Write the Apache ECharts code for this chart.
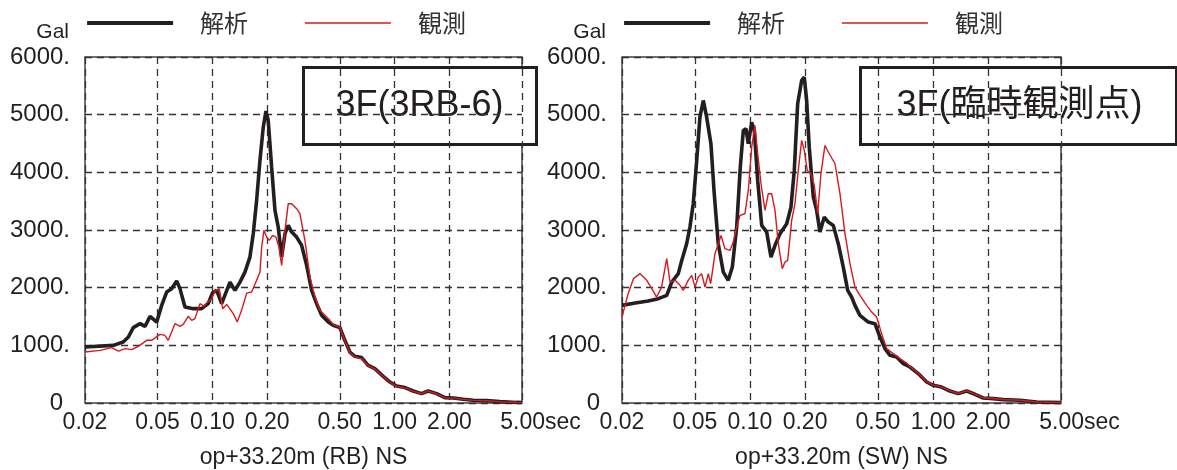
<!DOCTYPE html>
<html>
<head>
<meta charset="utf-8">
<script src="https://cdn.jsdelivr.net/npm/echarts@6/dist/echarts.min.js"></script>
<style>html,body{margin:0;padding:0;background:#fff}#c{width:1177px;height:470px}</style>
</head>
<body>
<div id="c"></div>
<script>
// ---- tick definitions ----
const tickPeriods = [0.02, 0.05, 0.1, 0.2, 0.5, 1, 2, 5];
const tickLabels = ['0.02', '0.05', '0.10', '0.20', '0.50', '1.00', '2.00', '5.00'];
const seriesNames = ['解析', '観測'];
const panelTitles = ['op+33.20m (RB) NS', 'op+33.20m (SW) NS'];
const boxTitles = ['3F(3RB-6)', '3F(臨時観測点)'];
const yUnit = 'Gal';

// ---- left panel: 3F(3RB-6), analysis (black) ----
const rbAnaT = [0.02, 0.0286, 0.0324, 0.0346, 0.0368, 0.0401, 0.0427, 0.0455, 0.0495, 0.0527, 0.0561, 0.0598, 0.0637, 0.0664, 0.0707, 0.0786, 0.0873, 0.0949, 0.1, 0.1056, 0.1124, 0.1249, 0.133, 0.1417, 0.1509, 0.1607, 0.1676, 0.1749, 0.1824, 0.1902, 0.1968, 0.2025, 0.2114, 0.2205, 0.2298, 0.2399, 0.2502, 0.2608, 0.2723, 0.29, 0.3089, 0.329, 0.3505, 0.3733, 0.3977, 0.4322, 0.46, 0.501, 0.533, 0.568, 0.605, 0.659, 0.716, 0.779, 0.866, 0.942, 1.025, 1.139, 1.264, 1.406, 1.528, 1.70, 1.887, 2.096, 2.378, 2.698, 3.196, 3.78, 4.668, 5.0];
const rbAnaV = [970, 1000, 1057, 1144, 1307, 1376, 1329, 1503, 1404, 1693, 1924, 1983, 2114, 1983, 1664, 1636, 1636, 1723, 1906, 1953, 1723, 2097, 1953, 2097, 2270, 2530, 2936, 3513, 4206, 4783, 5061, 4900, 4090, 3340, 3050, 2530, 2936, 3080, 2964, 2877, 2733, 2386, 1953, 1723, 1520, 1404, 1347, 1307, 1087, 884, 809, 787, 653, 596, 463, 364, 295, 267, 208, 163, 208, 163, 94, 87, 64, 47, 42, 24, 10, 8];

// ---- left panel: observation (red) ----
const rbObsT = [0.02, 0.0242, 0.028, 0.0305, 0.0332, 0.0361, 0.0392, 0.0436, 0.0464, 0.0516, 0.0549, 0.0573, 0.0623, 0.0664, 0.0692, 0.0737, 0.077, 0.0802, 0.0855, 0.0899, 0.0937, 0.0991, 0.1033, 0.1091, 0.1139, 0.1198, 0.1302, 0.1369, 0.1447, 0.1542, 0.1642, 0.1749, 0.1824, 0.1864, 0.1918, 0.1985, 0.2052, 0.2142, 0.2232, 0.2318, 0.2399, 0.2502, 0.2608, 0.2723, 0.29, 0.3022, 0.322, 0.343, 0.3654, 0.3892, 0.4146, 0.4416, 0.46, 0.501, 0.533, 0.568, 0.605, 0.659, 0.716, 0.779, 0.866, 0.942, 1.025, 1.139, 1.264, 1.406, 1.528, 1.70, 1.887, 2.096, 2.378, 2.698, 3.196, 3.78, 4.668, 5.0];
const rbObsV = [884, 913, 960, 901, 943, 925, 983, 1087, 1087, 1191, 1173, 1087, 1376, 1329, 1364, 1503, 1433, 1463, 1723, 1676, 1750, 1809, 1940, 1983, 1636, 1710, 1549, 1404, 1607, 1906, 1924, 2127, 2270, 2704, 2993, 2877, 2820, 2906, 2877, 2704, 2386, 2993, 3456, 3456, 3369, 3282, 2820, 2184, 1837, 1607, 1520, 1433, 1360, 1317, 1080, 870, 800, 770, 650, 590, 460, 360, 290, 262, 205, 160, 205, 160, 92, 85, 62, 45, 40, 22, 8, 6];

// ---- right panel: 3F(臨時観測点), analysis (black) ----
const swAnaT = [0.02, 0.0236, 0.0278, 0.0316, 0.0351, 0.0374, 0.0406, 0.0424, 0.0451, 0.047, 0.049, 0.0512, 0.0533, 0.0556, 0.058, 0.0612, 0.0638, 0.0671, 0.0715, 0.0761, 0.0801, 0.0846, 0.0886, 0.092, 0.0951, 0.0979, 0.1022, 0.1056, 0.1102, 0.1159, 0.1234, 0.1303, 0.137, 0.1459, 0.1587, 0.1675, 0.1746, 0.1822, 0.1916, 0.198, 0.204, 0.2108, 0.2218, 0.2314, 0.2412, 0.2546, 0.2678, 0.2852, 0.3036, 0.3234, 0.3418, 0.3594, 0.3746, 0.3988, 0.4428, 0.4818, 0.513, 0.5464, 0.5818, 0.6328, 0.6878, 0.7482, 0.8304, 0.923, 1.003, 1.114, 1.237, 1.373, 1.526, 1.694, 1.88, 2.132, 2.418, 2.984, 3.682, 5.0];
const swAnaV = [1693, 1733, 1768, 1809, 1866, 2097, 2243, 2473, 2762, 3050, 3456, 4206, 4957, 5246, 4957, 4496, 3629, 2762, 2270, 2127, 2357, 3050, 4100, 4726, 4755, 4496, 4870, 4726, 3860, 3080, 2964, 2530, 2733, 2936, 3109, 3397, 4033, 5189, 5593, 5650, 5246, 4437, 3570, 3340, 2964, 3224, 3137, 3080, 2762, 2357, 1953, 1837, 1693, 1520, 1404, 1376, 1144, 943, 827, 797, 683, 624, 510, 364, 307, 277, 208, 163, 208, 151, 87, 76, 59, 47, 17, 6];

// ---- right panel: observation (red) ----
const swObsT = [0.02, 0.0216, 0.0231, 0.0251, 0.0273, 0.0291, 0.0309, 0.0329, 0.0351, 0.0366, 0.039, 0.0415, 0.0432, 0.046, 0.0481, 0.0501, 0.0522, 0.0545, 0.0568, 0.0592, 0.061, 0.0644, 0.0695, 0.073, 0.0778, 0.0811, 0.0846, 0.0882, 0.0939, 0.0979, 0.1022, 0.1065, 0.1102, 0.1149, 0.1208, 0.1259, 0.1314, 0.137, 0.1428, 0.1502, 0.1553, 0.1607, 0.169, 0.1761, 0.1836, 0.1916, 0.198, 0.2056, 0.2154, 0.2246, 0.2344, 0.2442, 0.2568, 0.2712, 0.2914, 0.3102, 0.3304, 0.3518, 0.3746, 0.3988, 0.434, 0.462, 0.492, 0.524, 0.5582, 0.6064, 0.6598, 0.7178, 0.7482, 0.8304, 0.923, 1.003, 1.114, 1.237, 1.373, 1.526, 1.694, 1.88, 2.132, 2.418, 2.984, 3.682, 5.0];
const swObsV = [1490, 1896, 2156, 2243, 2127, 1983, 1837, 2010, 2503, 2097, 2127, 2040, 1953, 2127, 2213, 2010, 2184, 2243, 2010, 2243, 2069, 2589, 2906, 2676, 2646, 2790, 3050, 3253, 3282, 3686, 4437, 4813, 4322, 3802, 3340, 3629, 3629, 3340, 2762, 2329, 2444, 2473, 3166, 3456, 4033, 4553, 4380, 4033, 3976, 3773, 3282, 3976, 4466, 4322, 4149, 3629, 2936, 2416, 2010, 1866, 1693, 1577, 1490, 1203, 943, 856, 769, 693, 630, 515, 370, 310, 280, 210, 165, 210, 153, 90, 78, 60, 48, 18, 8];

const INK = '#231f20';
const RED = '#d7191f';
const FONT = '"Liberation Sans", Arial, sans-serif';
const CJK = '"Noto Sans CJK JP", sans-serif';
const ANA_W = 3.6, OBS_W = 1.4;

function pairs(T, V) { return T.map((t, i) => [t, V[i]]); }

const tickLogs = tickPeriods.map(t => Math.log10(t));
function xLabel(v) {
  const i = tickLogs.findIndex(l => Math.abs(l - v) < 1e-6);
  if (i < 0) return '';
  return i === tickLabels.length - 1 ? '{pad| }' + tickLabels[i] + '{u|sec}' : tickLabels[i];
}

const dashed = { type: [7, 5], color: '#333', width: 1.3 };

function xAxes(g) {
  return [
    { type: 'log', gridIndex: g, logBase: 10, min: 0.02, max: 5, show: false },
    {
      type: 'value', gridIndex: g, position: 'bottom',
      min: Math.log10(0.02), max: Math.log10(5),
      axisLine: { show: false },
      axisTick: { show: false, customValues: tickLogs },
      axisLabel: {
        customValues: tickLogs, formatter: xLabel, margin: 8,
        fontSize: 23, fontFamily: FONT, color: INK,
        rich: { pad: { width: 37, fontSize: 23 }, u: { fontSize: 23, fontFamily: FONT, color: INK } }
      },
      splitLine: { show: true, lineStyle: dashed },
      name: panelTitles[g], nameLocation: 'middle', nameGap: 43, nameMoveOverlap: false,
      nameTextStyle: { fontSize: 23, fontFamily: FONT, color: INK }
    }
  ];
}
function yAxis(g) {
  return {
    type: 'value', gridIndex: g, min: 0, max: 6000, interval: 1000,
    axisLine: { show: false }, axisTick: { show: false },
    axisLabel: {
      margin: 15, fontSize: 24, fontFamily: FONT, color: INK,
      formatter: v => v === 0 ? '0{d| }' : v + '.',
      rich: { d: { width: 7, fontSize: 24 } }
    },
    splitLine: { show: true, lineStyle: dashed }
  };
}
function legend(left) {
  return {
    data: [
      { name: seriesNames[0], lineStyle: { width: 4.2, color: INK } },
      { name: seriesNames[1], lineStyle: { width: 1.6, color: RED } }
    ],
    left: left, top: 11, padding: 0, orient: 'horizontal',
    itemWidth: 86, itemHeight: 14, itemGap: 56,
    itemStyle: { opacity: 0 },
    textStyle: { fontSize: 24, fontFamily: CJK, color: '#333', padding: [0, 0, 0, 22], lineHeight: 24 }
  };
}
function box(left, width, textX, text) {
  return {
    type: 'group', left: left, top: 66, z: 100,
    children: [
      { type: 'rect', shape: { x: 0, y: 0, width: width, height: 77 }, style: { fill: '#fff', stroke: INK, lineWidth: 3 } },
      { type: 'text', x: textX, y: 39, style: { text: text, fill: INK, font: '36px "Liberation Sans", "Noto Sans CJK JP", sans-serif', align: 'center', verticalAlign: 'middle' } }
    ]
  };
}
function unitLabel(x) {
  return { type: 'text', x: x, y: 32, z: 50, style: { text: yUnit, fill: INK, font: '21px "Liberation Sans", Arial, sans-serif', align: 'right', verticalAlign: 'middle' } };
}
function line(name, xi, yi, data, color, width) {
  return { name, type: 'line', xAxisIndex: xi, yAxisIndex: yi, data, symbol: 'none', showSymbol: false, smooth: false,
    lineStyle: { color, width }, itemStyle: { color }, emphasis: { disabled: true } };
}

const chart = echarts.init(document.getElementById('c'), null, { renderer: 'canvas' });
chart.setOption({
  animation: false,
  backgroundColor: '#fff',
  textStyle: { fontFamily: FONT },
  grid: [
    { left: 85, right: 655, top: 57, bottom: 67, show: true, borderColor: '#444', borderWidth: 1.5, backgroundColor: 'transparent', containLabel: false, outerBoundsMode: 'none' },
    { left: 622, right: 116, top: 57, bottom: 67, show: true, borderColor: '#444', borderWidth: 1.5, backgroundColor: 'transparent', containLabel: false, outerBoundsMode: 'none' }
  ],
  legend: [legend(85), legend(622)],
  xAxis: [...xAxes(0), ...xAxes(1)],
  yAxis: [yAxis(0), yAxis(1)],
  series: [
    line(seriesNames[0], 0, 0, pairs(rbAnaT, rbAnaV), INK, ANA_W),
    line(seriesNames[1], 0, 0, pairs(rbObsT, rbObsV), RED, OBS_W),
    line(seriesNames[0], 2, 1, pairs(swAnaT, swAnaV), INK, ANA_W),
    line(seriesNames[1], 2, 1, pairs(swObsT, swObsV), RED, OBS_W)
  ],
  graphic: [
    unitLabel(69), unitLabel(606),
    box(302, 233, 116, boxTitles[0]), box(859, 316, 159, boxTitles[1])
  ]
});
</script>
</body>
</html>
